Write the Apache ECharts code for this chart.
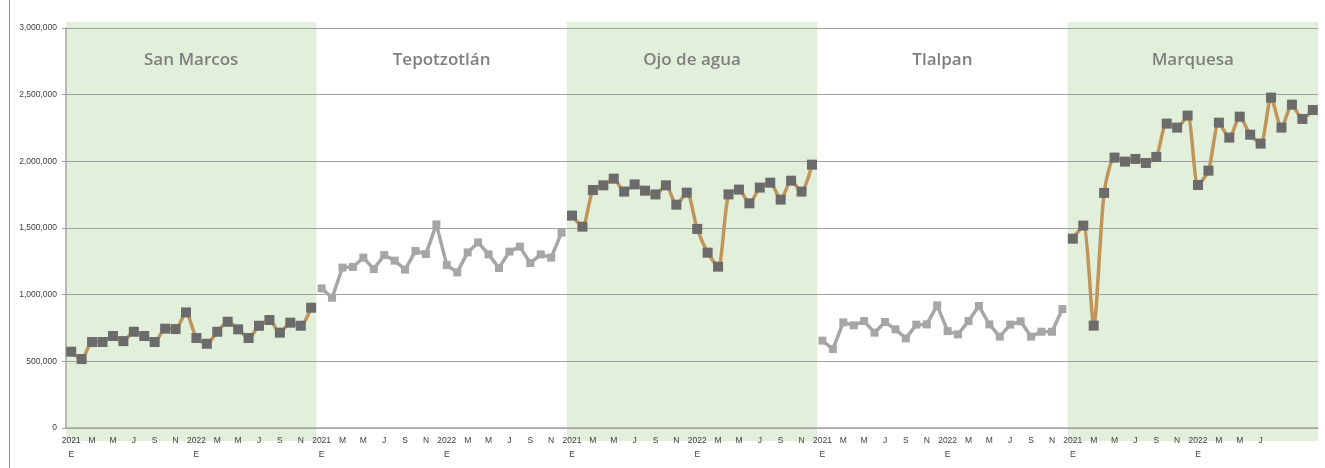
<!DOCTYPE html>
<html>
<head>
<meta charset="utf-8">
<script src="https://cdn.jsdelivr.net/npm/echarts@6/dist/echarts.min.js"></script>
<style>
  html, body { margin: 0; padding: 0; background: #fff; }
  #chart { width: 1325px; height: 468px; }
  #frame { position: absolute; left: 9px; top: 0; width: 1px; height: 468px; background: #8c8c8c; }
</style>
</head>
<body>
<div id="chart"></div>
<div id="frame"></div>
<script>
const groups = ["San Marcos", "Tepotzotlán", "Ojo de agua", "Tlalpan", "Marquesa"];

const monthTicks = ["2021\nE", "", "M", "", "M", "", "J", "", "S", "", "N", "",
  "2022\nE", "", "M", "", "M", "", "J", "", "S", "", "N", ""];
const lastTicks = ["2021\nE", "", "M", "", "M", "", "J", "", "S", "", "N", "",
  "2022\nE", "", "M", "", "M", "", "J", "", "", "", "", ""];

const sanMarcos = [572000, 517000, 645000, 645000, 690000, 652000, 722000, 690000, 645000, 745000, 742000, 867000,
  675000, 632000, 722000, 797000, 740000, 675000, 767000, 810000, 715000, 790000, 767000, 902000];
const tepotzotlan = [1047000, 977000, 1203000, 1208000, 1278000, 1192000, 1297000, 1255000, 1188000, 1328000, 1305000, 1527000,
  1222000, 1167000, 1317000, 1392000, 1302000, 1200000, 1323000, 1360000, 1237000, 1302000, 1278000, 1465000];
const ojoDeAgua = [1593000, 1510000, 1785000, 1820000, 1870000, 1773000, 1827000, 1780000, 1752000, 1820000, 1675000, 1765000,
  1493000, 1315000, 1210000, 1752000, 1788000, 1685000, 1803000, 1840000, 1713000, 1855000, 1773000, 1975000];
const tlalpan = [655000, 592000, 792000, 770000, 802000, 715000, 795000, 740000, 672000, 775000, 777000, 920000,
  727000, 702000, 802000, 915000, 777000, 685000, 775000, 800000, 685000, 722000, 722000, 892000];
const marquesa = [1420000, 1518000, 768000, 1763000, 2028000, 1998000, 2018000, 1988000, 2033000, 2283000, 2253000, 2343000,
  1823000, 1930000, 2290000, 2178000, 2335000, 2200000, 2133000, 2478000, 2253000, 2425000, 2318000, 2385000];

const groupValues = [sanMarcos, tepotzotlan, ojoDeAgua, tlalpan, marquesa];
const shaded = [true, false, true, false, true];

// one category per month, group after group
const tickLabels = [];
const categories = [];
groupValues.forEach((vals, g) => {
  const ticks = g === groups.length - 1 ? lastTicks : monthTicks;
  vals.forEach((v, i) => {
    categories.push(g + "-" + i);
    tickLabels.push(ticks[i]);
  });
});

const chart = echarts.init(document.getElementById("chart"));
const labelFont = "Liberation Sans, Arial, sans-serif";

chart.setOption({
  animation: false,
  grid: [
    { left: 66, right: 7, top: 28, bottom: 40 },
    { left: 66, right: 7, top: 22, bottom: 27 },
  ],
  xAxis: [
    {
      type: "category",
      gridIndex: 0,
      data: categories,
      boundaryGap: true,
      z: 2,
      axisLine: { lineStyle: { color: "#a6a6a6", width: 1.5 } },
      axisTick: { interval: 0, length: 3, lineStyle: { color: "#a6a6a6" } },
      axisLabel: {
        interval: 0,
        margin: 6,
        color: "#404040",
        fontFamily: labelFont,
        fontSize: 8.5,
        lineHeight: 14,
        formatter: (v, i) => tickLabels[i],
      },
    },
    { type: "category", gridIndex: 1, data: groups, show: false },
  ],
  yAxis: [
    {
      type: "value",
      gridIndex: 0,
      min: 0,
      max: 3000000,
      interval: 500000,
      z: 2,
      axisLine: { show: true, lineStyle: { color: "#a6a6a6", width: 1.5 } },
      axisTick: { show: true, length: 4, lineStyle: { color: "#a6a6a6" } },
      splitLine: { lineStyle: { color: "#a0a0a0", width: 1 } },
      axisLabel: {
        margin: 9,
        color: "#404040",
        fontFamily: labelFont,
        fontSize: 8.5,
        formatter: (v) => v.toLocaleString("en-US"),
      },
    },
    { type: "value", gridIndex: 1, min: 0, max: 1, show: false },
  ],
  series: [
    {
      type: "bar",
      xAxisIndex: 1,
      yAxisIndex: 1,
      z: 0,
      barWidth: "100%",
      silent: true,
      data: groups.map((name, g) => ({
        value: 1,
        itemStyle: { color: shaded[g] ? "#e2efda" : "rgba(0,0,0,0)" },
      })),
      label: {
        show: true,
        position: "insideTop",
        distance: 30,
        formatter: "{b}",
        color: "#7f7f7f",
        fontFamily: "Open Sans, sans-serif",
        fontWeight: 600,
        fontSize: 17,
      },
    },
    ...groupValues.map((vals, g) => ({
      type: "line",
      name: groups[g],
      xAxisIndex: 0,
      yAxisIndex: 0,
      z: 3,
      data: Array(g * 24).fill("-").concat(vals),
      smooth: shaded[g] ? 0.25 : false,
      symbol: "rect",
      symbolSize: shaded[g] ? 10 : 8,
      lineStyle: { color: shaded[g] ? "#c0955a" : "#a6a6a6", width: 3.5 },
      itemStyle: { color: shaded[g] ? "#6b6b6b" : "#a6a6a6" },
    })),
  ],
});
</script>
</body>
</html>
